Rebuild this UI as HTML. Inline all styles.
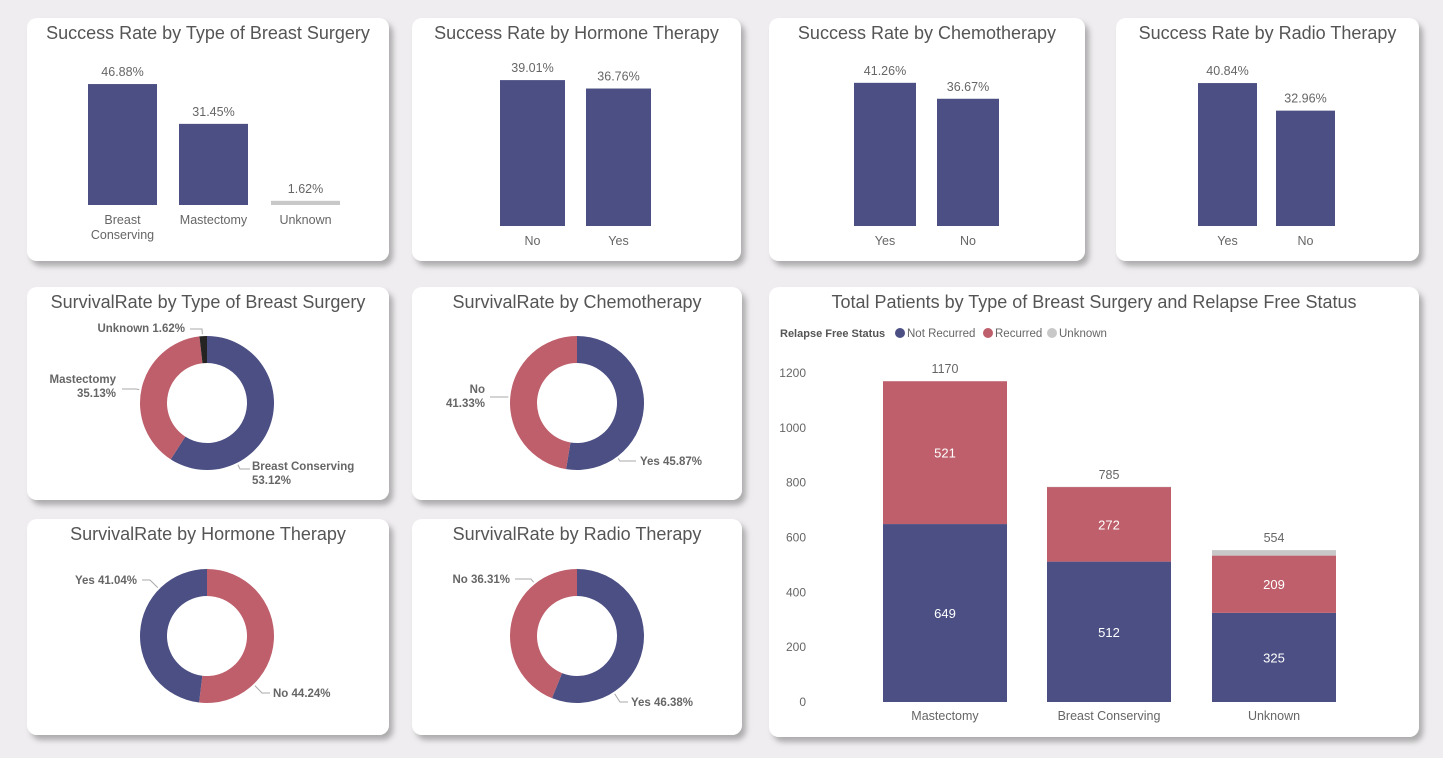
<!DOCTYPE html>
<html><head><meta charset="utf-8">
<style>
html,body{margin:0;padding:0;background:#efedef;}
svg{display:block;font-family:"Liberation Sans",sans-serif;}
</style></head>
<body>
<svg id="root" width="1443" height="758" viewBox="0 0 1443 758">
<defs>
<filter id="sh" x="-10%" y="-10%" width="130%" height="130%">
<feDropShadow dx="4" dy="5" stdDeviation="3" flood-color="#000" flood-opacity="0.28"/>
</filter>
</defs>
<g id="cards"></g>
<g id="content"></g>
</svg>
<script>
// ---------- data ----------
const surgeryCats = ["Breast\nConserving","Mastectomy","Unknown"];
const surgerySuccess = [46.88,31.45,1.62];
const hormoneCats = ["No","Yes"];
const hormoneSuccess = [39.01,36.76];
const chemoCats = ["Yes","No"];
const chemoSuccess = [41.26,36.67];
const radioCats = ["Yes","No"];
const radioSuccess = [40.84,32.96];

const survSurgeryLabels = ["Breast Conserving","Mastectomy","Unknown"];
const survSurgeryVals = [53.12,35.13,1.62];
const survChemoLabels = ["Yes","No"];
const survChemoVals = [45.87,41.33];
const survHormoneLabels = ["No","Yes"];
const survHormoneVals = [44.24,41.04];
const survRadioLabels = ["Yes","No"];
const survRadioVals = [46.38,36.31];

const stackCats = ["Mastectomy","Breast Conserving","Unknown"];
const notRecurred = [649,512,325];
const recurred = [521,272,209];
const unknownRel = [0,1,20];
const stackTicks = [0,200,400,600,800,1000,1200];

// ---------- helpers ----------
const NS="http://www.w3.org/2000/svg";
const cards=document.getElementById('cards');
const content=document.getElementById('content');
function el(tag,attrs,parent,text){const e=document.createElementNS(NS,tag);for(const k in attrs)e.setAttribute(k,attrs[k]);if(text!==undefined)e.textContent=text;(parent||content).appendChild(e);return e;}
const BLUE="#4b4f83",RED="#be5f6b",GREY="#c8c8c8",DARK="#252423";

function card(x,y,w,h,title,name){
  const r=el('rect',{x,y,width:w,height:h,rx:10,fill:"#fff",filter:"url(#sh)"},cards);
  
  
  const t=el('text',{x:x+w/2,y:y+21,'text-anchor':'middle','font-size':18,fill:"#555"},content,title);
  
  
}

function barChart(name,cats,vals,xs,bw,base,scale,colors){
  cats.forEach((c,i)=>{
    const h=Math.max(vals[i]*scale,3);
    const b=el('rect',{x:xs[i],y:base-h,width:bw,height:h,fill:colors?colors[i]:BLUE});
    
    
    const v=el('text',{x:xs[i]+bw/2,y:base-h-8,'text-anchor':'middle','font-size':12.5,fill:"#666"},content,vals[i].toFixed(2)+"%");
    
    
    c.split("\n").forEach((ln,j)=>{
      const t=el('text',{x:xs[i]+bw/2,y:base+19+j*15,'text-anchor':'middle','font-size':12.5,fill:"#666"},content,ln);
      
      
    });
  });
}

function arcPath(cx,cy,ro,ri,a0,a1){
  const p=(r,a)=>[cx+r*Math.sin(a),cy-r*Math.cos(a)];
  const large=(a1-a0)>Math.PI?1:0;
  const [x0,y0]=p(ro,a0),[x1,y1]=p(ro,a1),[x2,y2]=p(ri,a1),[x3,y3]=p(ri,a0);
  return `M${x0},${y0}A${ro},${ro} 0 ${large} 1 ${x1},${y1}L${x2},${y2}A${ri},${ri} 0 ${large} 0 ${x3},${y3}Z`;
}
function donut(name,cx,cy,labels,vals,colors,labelSpecs){
  const tot=vals.reduce((a,b)=>a+b,0);let a=0;
  vals.forEach((v,i)=>{
    const a1=a+v/tot*2*Math.PI;
    const s=el('path',{d:arcPath(cx,cy,67,40,a,a1),fill:colors[i]});
    
    
    const sp=labelSpecs[i];
    const dx=sp.lx-cx,dy=sp.ly-cy,dl=Math.hypot(dx,dy);
    const px=cx+dx/dl*69,py=cy+dy/dl*69;
    const l=el('polyline',{points:`${px},${py} ${sp.lx},${sp.ly} ${sp.lx2},${sp.ly}`,fill:"none",stroke:"#aaa","stroke-width":1});
    
    
    const lines=sp.two?[labels[i],v.toFixed(2)+"%"]:[labels[i]+" "+v.toFixed(2)+"%"];
    lines.forEach((ln,j)=>{
      const t=el('text',{x:sp.tx,y:sp.ty+j*14,'text-anchor':sp.anchor,'font-size':11.5,'font-weight':'bold',fill:"#666"},content,ln);
      
      
    });
    a=a1;
  });
}

// ---------- cards ----------
card(27,18,362,243,"Success Rate by Type of Breast Surgery","success-surgery");
card(412,18,329,243,"Success Rate by Hormone Therapy","success-hormone");
card(769,18,316,243,"Success Rate by Chemotherapy","success-chemo");
card(1116,18,303,243,"Success Rate by Radio Therapy","success-radio");
card(27,287,362,213,"SurvivalRate by Type of Breast Surgery","survival-surgery");
card(412,287,330,213,"SurvivalRate by Chemotherapy","survival-chemo");
card(27,519,362,216,"SurvivalRate by Hormone Therapy","survival-hormone");
card(412,519,330,216,"SurvivalRate by Radio Therapy","survival-radio");
card(769,287,650,450,"Total Patients by Type of Breast Surgery and Relapse Free Status","patients-stacked");

// ---------- top bar charts ----------
barChart("success-surgery",surgeryCats,surgerySuccess,[88,179,271],69,205,2.58,[BLUE,BLUE,GREY]);
barChart("success-hormone",hormoneCats,hormoneSuccess,[500,586],65,226,3.74);
barChart("success-chemo",chemoCats,chemoSuccess,[854,937],62,226,3.47);
barChart("success-radio",radioCats,radioSuccess,[1198,1276],59,226,3.5);

// ---------- donuts ----------
donut("survival-surgery",207,403,survSurgeryLabels,survSurgeryVals,[BLUE,RED,DARK],[
 {lx:240,ly:469,lx2:250,tx:252,ty:470,anchor:'start',two:true},
 {lx:136,ly:389,lx2:122,tx:116,ty:383,anchor:'end',two:true},
 {lx:202,ly:329,lx2:190,tx:185,ty:332,anchor:'end',two:false}]);
donut("survival-chemo",577,403,survChemoLabels,survChemoVals,[BLUE,RED],[
 {lx:620,ly:461,lx2:636,tx:640,ty:465,anchor:'start',two:false},
 {lx:508,ly:397,lx2:490,tx:485,ty:393,anchor:'end',two:true}]);
donut("survival-hormone",207,636,survHormoneLabels,survHormoneVals,[RED,BLUE],[
 {lx:262,ly:693,lx2:270,tx:273,ty:697,anchor:'start',two:false},
 {lx:150,ly:580,lx2:142,tx:137,ty:584,anchor:'end',two:false}]);
donut("survival-radio",577,636,survRadioLabels,survRadioVals,[BLUE,RED],[
 {lx:620,ly:702,lx2:628,tx:631,ty:706,anchor:'start',two:false},
 {lx:531,ly:579,lx2:515,tx:510,ty:583,anchor:'end',two:false}]);

// ---------- stacked chart ----------
(function(){
  const base=702, sc=329/1200, xs=[883,1047,1212], bw=124;
  const y=v=>base-v*sc;
  const lg=el('text',{x:780,y:337,'font-size':11,'font-weight':'bold',fill:"#555"},content,"Relapse Free Status");
  
  
  [["Not Recurred",BLUE,900],["Recurred",RED,988],["Unknown",GREY,1052]].forEach(([n,c,x])=>{
    const d=el('circle',{cx:x,cy:333,r:5,fill:c});
    
    
    const t=el('text',{x:x+7,y:337,'font-size':11.5,fill:"#666"},content,n);
    
    
  });
  stackTicks.forEach(v=>{
    const t=el('text',{x:806,y:y(v)+4,'text-anchor':'end','font-size':12,fill:"#666"},content,String(v));
    
    
  });
  stackCats.forEach((c,i)=>{
    const a=notRecurred[i],b=recurred[i],u=unknownRel[i];
    const r1=el('rect',{x:xs[i],y:y(a),width:bw,height:a*sc,fill:BLUE});
    
    
    const r2=el('rect',{x:xs[i],y:y(a+b),width:bw,height:b*sc,fill:RED});
    
    
    const r3=el('rect',{x:xs[i],y:y(a+b+u),width:bw,height:u*sc,fill:GREY});
    
    
    const t1=el('text',{x:xs[i]+bw/2,y:y(a/2)+5,'text-anchor':'middle','font-size':13,fill:"#fff"},content,String(a));
    
    
    const t2=el('text',{x:xs[i]+bw/2,y:y(a+b/2)+5,'text-anchor':'middle','font-size':13,fill:"#fff"},content,String(b));
    
    
    const tot=a+b+u;
    const t3=el('text',{x:xs[i]+bw/2,y:y(tot)-8,'text-anchor':'middle','font-size':12.5,fill:"#666"},content,String(tot));
    
    
    const t4=el('text',{x:xs[i]+bw/2,y:720,'text-anchor':'middle','font-size':12.5,fill:"#666"},content,c);
    
    
  });
})();
</script>
</body></html>
